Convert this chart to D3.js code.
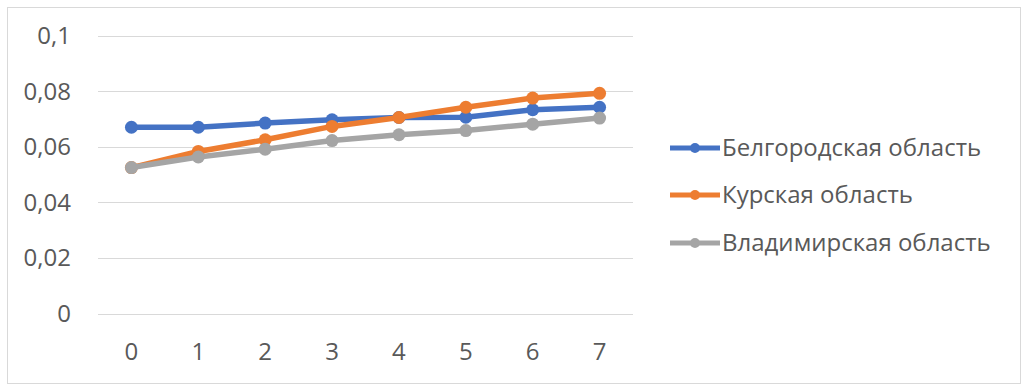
<!DOCTYPE html>
<html>
<head>
<meta charset="utf-8">
<script src="https://cdn.jsdelivr.net/npm/d3@7"></script>
<style>
  body { margin: 0; background: #fff; }
  text { font-family: "Open Sans", sans-serif; fill: #595959; }
</style>
</head>
<body>
<div id="chart"></div>
<script>
// data
var categories = [0, 1, 2, 3, 4, 5, 6, 7];
var seriesNames = ["Белгородская область", "Курская область", "Владимирская область"];
var belgorod = [0.0670, 0.0670, 0.0685, 0.0697, 0.0705, 0.0706, 0.0733, 0.0742];
var kursk = [0.0525, 0.0583, 0.0625, 0.0673, 0.0705, 0.0742, 0.0775, 0.0792];
var vladimir = [0.0525, 0.0563, 0.0591, 0.0622, 0.0643, 0.0658, 0.0681, 0.0703];
var yTicks = [0, 0.02, 0.04, 0.06, 0.08, 0.1];
var colors = ["#4472C4", "#ED7D31", "#A5A5A5"];

var width = 1027,
    height = 392;

var svg = d3.select("#chart").append("svg")
  .attr("width", width)
  .attr("height", height);

// chart border
svg.append("rect")
  .attr("x", 7.5).attr("y", 7.5)
  .attr("width", 1013).attr("height", 376)
  .attr("fill", "#fff")
  .attr("stroke", "#d9d9d9");

var x = d3.scaleBand()
  .domain(categories)
  .range([98, 633]);

var y = d3.scaleLinear()
  .domain([0, 0.1])
  .range([313.5, 35.5]);

var fmt = function(d) { return String(d).replace(".", ","); };

// gridlines
svg.append("g")
  .selectAll("line")
  .data(yTicks)
  .enter()
  .append("line")
  .attr("x1", 98).attr("x2", 633)
  .attr("y1", function(d) { return Math.round(y(d)) + 0.5; })
  .attr("y2", function(d) { return Math.round(y(d)) + 0.5; })
  .attr("stroke", "#d9d9d9")
  .attr("stroke-width", 1);

// y labels
svg.append("g")
  .selectAll("text")
  .data(yTicks)
  .enter()
  .append("text")
  .attr("x", 71)
  .attr("y", function(d) { return y(d); })
  .attr("dy", "0.35em")
  .attr("text-anchor", "end")
  .style("font-size", "24px")
  .text(fmt);

// x labels
svg.append("g")
  .selectAll("text")
  .data(categories)
  .enter()
  .append("text")
  .attr("x", function(d) { return x(d) + x.bandwidth() / 2; })
  .attr("y", 352)
  .attr("dy", "0.35em")
  .attr("text-anchor", "middle")
  .style("font-size", "24px")
  .text(function(d) { return d; });

var series = [belgorod, kursk, vladimir];

var line = d3.line()
  .x(function(d, i) { return x(categories[i]) + x.bandwidth() / 2; })
  .y(function(d) { return y(d); });

series.forEach(function(values, s) {
  var g = svg.append("g");
  g.append("path")
    .attr("d", line(values))
    .attr("fill", "none")
    .attr("stroke", colors[s])
    .attr("stroke-width", 5.5)
    .attr("stroke-linejoin", "round")
    .attr("stroke-linecap", "round");
  g.selectAll("circle")
    .data(values)
    .enter()
    .append("circle")
    .attr("cx", function(d, i) { return x(categories[i]) + x.bandwidth() / 2; })
    .attr("cy", function(d) { return y(d); })
    .attr("r", 6.5)
    .attr("fill", colors[s]);
});

// legend
var legendY = [148, 195, 243];
var legend = svg.append("g")
  .selectAll("g")
  .data(seriesNames)
  .enter()
  .append("g")
  .attr("transform", function(d, i) { return "translate(670," + legendY[i] + ")"; });

legend.append("line")
  .attr("x1", 0).attr("x2", 50)
  .attr("stroke", function(d, i) { return colors[i]; })
  .attr("stroke-width", 5);

legend.append("circle")
  .attr("cx", 25)
  .attr("r", 5)
  .attr("fill", function(d, i) { return colors[i]; });

legend.append("text")
  .attr("x", 52)
  .attr("dy", "0.35em")
  .style("font-size", "24px")
  .text(function(d) { return d; });
</script>
</body>
</html>
